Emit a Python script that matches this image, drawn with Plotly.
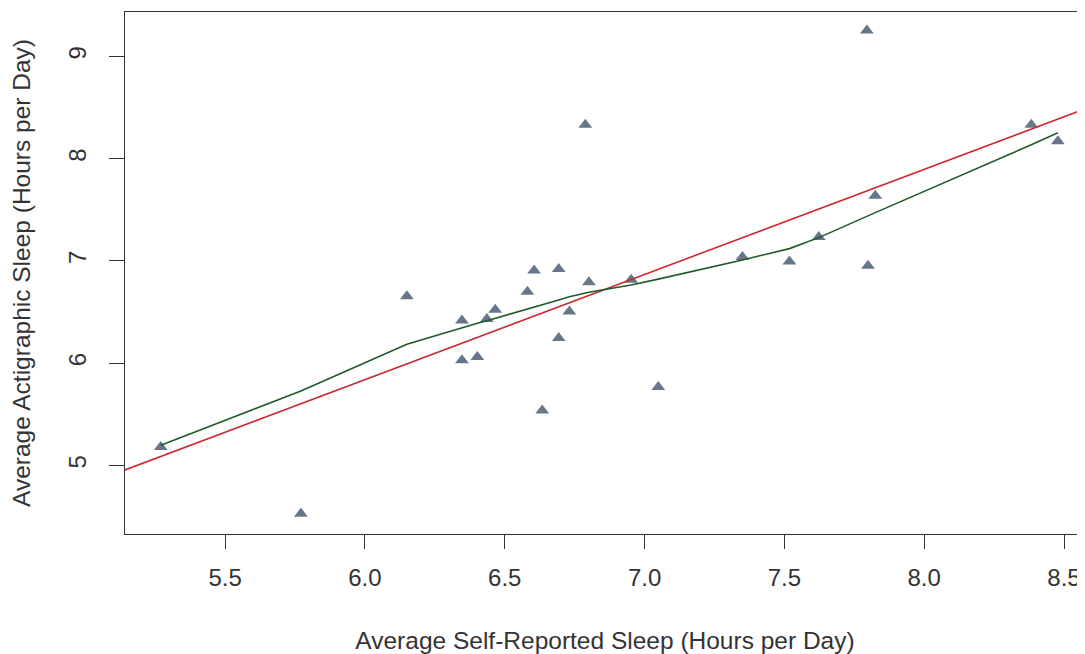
import numpy as np
import plotly.graph_objects as go

# Data
self_reported = [5.270, 5.771, 6.150, 6.605, 6.693, 6.801, 6.581, 6.466, 6.347, 6.436,
                 6.731, 6.952, 6.693, 6.347, 6.402, 7.049, 6.634, 6.788, 7.350, 7.518,
                 7.623, 7.799, 7.825, 8.383, 8.478, 7.795]
actigraphic = [5.180, 4.528, 6.653, 6.907, 6.921, 6.790, 6.699, 6.523, 6.418, 6.432,
               6.506, 6.816, 6.246, 6.027, 6.060, 5.767, 5.538, 8.332, 7.038, 6.995,
               7.234, 6.953, 7.638, 8.332, 8.169, 9.254]

x_ticks = [5.5, 6.0, 6.5, 7.0, 7.5, 8.0, 8.5]
x_tick_labels = ["5.5", "6.0", "6.5", "7.0", "7.5", "8.0", "8.5"]
y_ticks = [5, 6, 7, 8, 9]
y_tick_labels = ["5", "6", "7", "8", "9"]

x_range = [5.142, 8.575]
y_range = [4.329, 9.434]


def r_lowess(x, y, f=2 / 3, n_iter=3):
    """Port of R's clowess (delta = 0)."""
    order = np.argsort(x, kind="stable")
    x = np.asarray(x, float)[order]
    y = np.asarray(y, float)[order]
    n = len(x)
    ns = max(min(int(f * n + 1e-7), n), 2)
    xrange = x[-1] - x[0]
    ys = np.zeros(n)
    rw = np.ones(n)
    for it in range(n_iter + 1):
        nleft, nright = 0, ns - 1
        for i in range(n):
            while nright < n - 1 and x[i] - x[nleft] > x[nright + 1] - x[i]:
                nleft += 1
                nright += 1
            h = max(x[i] - x[nleft], x[nright] - x[i])
            h9, h1 = 0.999 * h, 0.001 * h
            w = np.zeros(n)
            a = 0.0
            j = nleft
            while j < n:
                r = abs(x[j] - x[i])
                if r <= h9:
                    w[j] = 1.0 if r <= h1 else (1 - (r / h) ** 3) ** 3
                    if it > 0:
                        w[j] *= rw[j]
                    a += w[j]
                elif x[j] > x[i]:
                    break
                j += 1
            if a <= 0:
                ys[i] = y[i]
                continue
            w /= a
            if h > 0:
                a2 = np.sum(w * x)
                b = x[i] - a2
                c = np.sum(w * (x - a2) ** 2)
                if np.sqrt(c) > 0.001 * xrange:
                    b /= c
                    w = w * (b * (x - a2) + 1)
            ys[i] = np.sum(w * y)
        if it == n_iter:
            break
        res = y - ys
        cmad = 6 * np.median(np.abs(res))
        if cmad < 1e-7 * np.mean(np.abs(y)):
            break
        c9, c1 = 0.999 * cmad, 0.001 * cmad
        ar = np.abs(res)
        rw = np.where(ar <= c1, 1.0, np.where(ar <= c9, (1 - (res / cmad) ** 2) ** 2, 0.0))
    return x, ys


lx, ly = r_lowess(self_reported, actigraphic)
slope, intercept = np.polyfit(self_reported, actigraphic, 1)
fit_x = np.array(x_range)
fit_y = intercept + slope * fit_x

fig = go.Figure()
fig.add_trace(go.Scatter(x=self_reported, y=actigraphic, mode="markers",
                         marker=dict(symbol="triangle-up", size=12, color="#66778A",
                                     line=dict(width=0)),
                         hoverinfo="x+y", showlegend=False))
fig.add_trace(go.Scatter(x=fit_x, y=fit_y, mode="lines",
                         line=dict(color="#CC2A30", width=1.6), showlegend=False))
fig.add_trace(go.Scatter(x=lx, y=ly, mode="lines",
                         line=dict(color="#1E5A2A", width=1.6), showlegend=False))

font = "Liberation Sans, Arial, sans-serif"
fig.update_layout(
    width=1077, height=646,
    margin=dict(l=117, r=0, t=4, b=120),
    paper_bgcolor="white", plot_bgcolor="white",
    font=dict(family=font, size=24, color="#333333"),
    xaxis=dict(range=x_range, tickvals=x_ticks, ticktext=x_tick_labels,
               ticks="outside", ticklen=14, tickwidth=1, tickcolor="#333333",
               showline=True, linecolor="#333333", linewidth=1, mirror=True,
               showgrid=False, zeroline=False, ticklabelstandoff=8, automargin=False,
               tickfont=dict(size=24, color="#333333"),
               title=dict(text="Average Self-Reported Sleep (Hours per Day)",
                          font=dict(size=24.5, color="#333333"), standoff=43)),
    yaxis=dict(range=y_range, tickvals=y_ticks, ticktext=y_tick_labels,
               ticks="outside", ticklen=15, tickwidth=1, tickcolor="#333333",
               showline=True, linecolor="#333333", linewidth=1, mirror=False,
               showgrid=False, zeroline=False, tickangle=-90, ticklabelstandoff=13,
               automargin=False,
               tickfont=dict(size=24, color="#333333"),
               title=dict(text="Average Actigraphic Sleep (Hours per Day)",
                          font=dict(size=24.5, color="#333333"), standoff=26)),
)

fig.write_html("out.html")
